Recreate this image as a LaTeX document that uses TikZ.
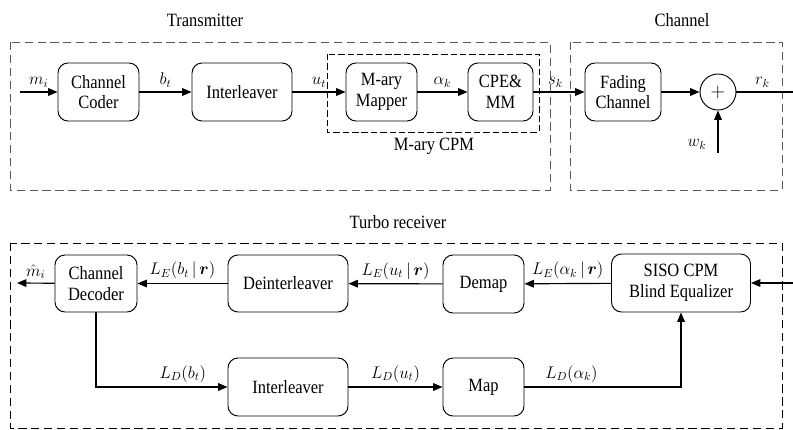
\documentclass[tikz,border=0pt]{standalone}
\usepackage{amsmath, amssymb}
\usepackage{fontspec}
\setmainfont[FakeStretch=0.88]{Liberation Serif}
\usepackage{tikz}
\usetikzlibrary{arrows.meta, positioning}
\newcommand{\given}{\,|\,}

\begin{document}
\begin{tikzpicture}[x=0.03cm, y=-0.03cm,
    font=\fontsize{16}{17.5}\selectfont,
    blk/.style={draw, rounded corners=0.3cm, align=center, inner sep=0pt, line width=0.8pt},
    arr/.style={-{Triangle[length=8pt, width=6.5pt]}, line width=1pt},
    wire/.style={line width=1pt},
    lbl/.style={font=\fontsize{14.5}{16}\selectfont},
    outer/.style={draw=black!65, dash pattern=on 7pt off 4pt, line width=0.8pt},
    inner/.style={draw, dash pattern=on 5.5pt off 2.5pt, line width=0.8pt}]
    \useasboundingbox (0,0) rectangle (793,430);
    \draw[outer] (10,42) rectangle (550,190);
    \draw[outer] (570,42) rectangle (782,190);
    \draw[inner] (327,54) rectangle (539,132);
    \draw[outer, draw=black] (10,243) rectangle (782,428);
    \node (tx) at (205,20) {Transmitter};
    \node (ch) at (682,20) {Channel};
    \node (cpm) at (434,146) {M-ary CPM};
    \node (rx) at (398,222) {Turbo receiver};

    \node[blk, minimum width=2.43cm, minimum height=1.74cm] (coder) at (98.5,92) {Channel\\Coder};
    \node[blk, minimum width=3cm, minimum height=1.74cm] (ileave) at (242,92) {Interleaver};
    \node[blk, minimum width=2.13cm, minimum height=1.74cm] (mapper) at (381.5,92) {M-ary\\Mapper};
    \node[blk, minimum width=1.95cm, minimum height=1.74cm] (cpe) at (500.5,92) {CPE\&\\MM};
    \node[blk, minimum width=2.28cm, minimum height=1.74cm] (fading) at (623,92) {Fading\\Channel};
    \node[draw, circle, minimum size=1.08cm, inner sep=0pt, line width=0.8pt] (adder) at (718,92) {$+$};
    \coordinate (min) at (20,92);
    \coordinate (rout) at (793,92);
    \coordinate (noise) at (718,153);

    \draw[arr] (min) -- node[above, lbl] {$m_i$} (coder);
    \draw[arr] (coder) -- node[above, lbl] {$b_t$} (ileave);
    \draw[arr] (ileave) -- node[above, lbl] {$u_t$} (mapper);
    \draw[arr] (mapper) -- node[above, lbl] {$\alpha_k$} (cpe);
    \draw[arr] (cpe) -- node[above, lbl, xshift=-3pt] {$s_k$} (fading);
    \draw[arr] (fading) -- (adder);
    \draw[wire] (adder) -- node[above, lbl, xshift=-2pt] {$r_k$} (rout);
    \draw[arr] (noise) -- node[left, lbl, pos=0.2, xshift=-6pt] {$w_k$} (adder);

    \node[blk, minimum width=2.46cm, minimum height=1.71cm] (decoder) at (96,283.5) {Channel\\Decoder};
    \node[blk, minimum width=3.6cm, minimum height=1.71cm] (deileave) at (288,283.5) {Deinterleaver};
    \node[blk, minimum width=2.43cm, minimum height=1.74cm] (demap) at (483.5,284) {Demap};
    \node[blk, minimum width=4.17cm, minimum height=1.74cm] (siso) at (681,283) {SISO CPM\\Blind Equalizer};
    \node[blk, minimum width=3.6cm, minimum height=1.74cm] (ileaveb) at (288,387) {Interleaver};
    \node[blk, minimum width=2.43cm, minimum height=1.74cm] (map) at (483.5,387) {Map};
    \coordinate (rin) at (793,283);
    \coordinate (mout) at (17,283);

    \draw[arr] (rin) -- (siso);
    \draw[arr] (siso) -- node[above, lbl] {$L_E(\alpha_k \given \boldsymbol{r})$} (demap);
    \draw[arr] (demap) -- node[above, lbl] {$L_E(u_t \given \boldsymbol{r})$} (deileave);
    \draw[arr] (deileave) -- node[above, lbl] {$L_E(b_t \given \boldsymbol{r})$} (decoder);
    \draw[arr] (decoder) -- node[above, lbl] {$\hat{m}_i$} (mout);
    \draw[arr] (decoder.south) |- node[above, lbl, pos=0.83] {$L_D(b_t)$} (ileaveb);
    \draw[arr] (ileaveb) -- node[above, lbl] {$L_D(u_t)$} (map);
    \draw[arr] (map) -| node[above, lbl, pos=0.15] {$L_D(\alpha_k)$} (siso.south);
\end{tikzpicture}
\end{document}
